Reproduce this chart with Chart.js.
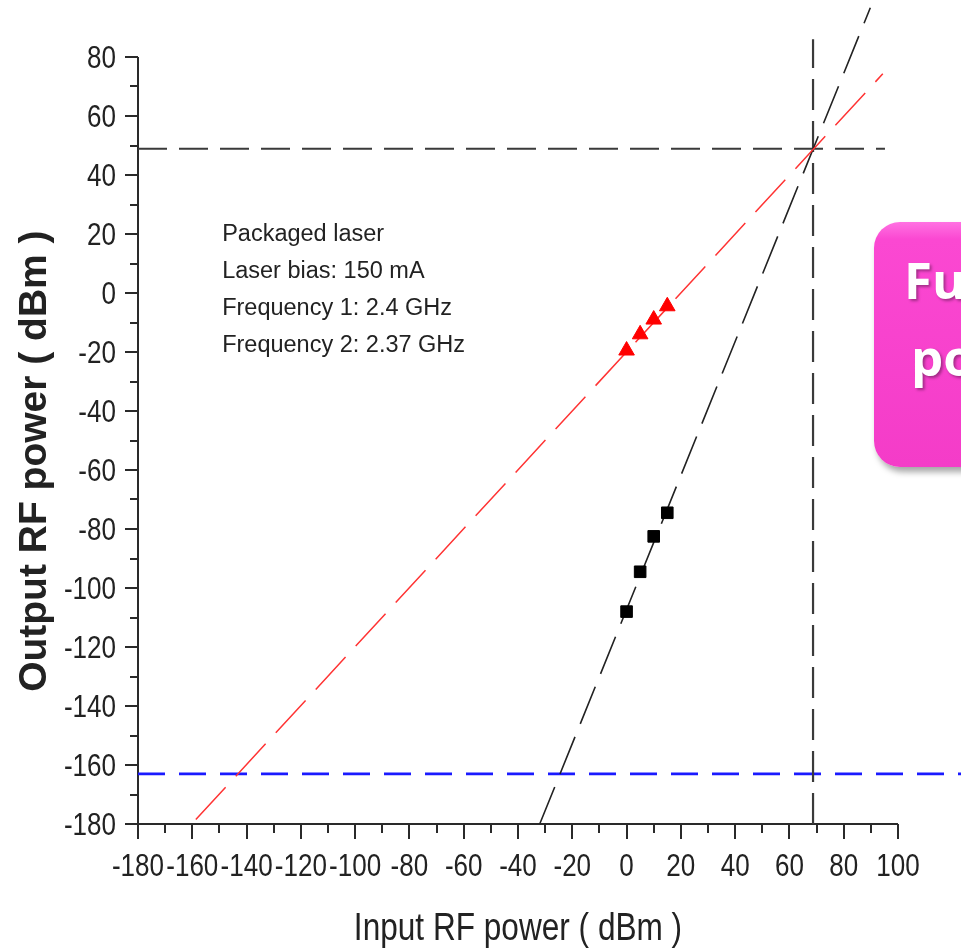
<!DOCTYPE html>
<html>
<head>
<meta charset="utf-8">
<title>Output RF power vs input RF power</title>
<script src="https://cdn.jsdelivr.net/npm/chart.js@4.4.1/dist/chart.umd.min.js"></script>
<style>
  html, body { margin: 0; padding: 0; background: #fff; }
  #wrap { position: relative; width: 961px; height: 949px; overflow: hidden; }
  #callout {
    position: absolute; left: 874px; top: 222px; width: 240px; height: 245px;
    border-radius: 26px;
    background: linear-gradient(180deg, #ff72e2 0%, #fb48d2 7%, #f43cc8 100%);
    box-shadow: 3px 5px 6px rgba(0,0,0,0.35);
    color: #fff; font-family: "Open Sans", "Noto Sans", sans-serif;
    font-weight: 700; font-size: 51px; line-height: 50px;
  }
  #callout span { position: absolute; white-space: nowrap; text-shadow: 2px 2px 3px rgba(0,0,0,0.35); }
</style>
</head>
<body>
<div id="wrap">
  <canvas id="ip3Chart"></canvas>
  <div id="callout"><span style="left:30px;top:32px">Fundamental</span><span style="left:37px;top:109px">power</span></div>
</div>
<script>
// measured fundamental (red) and third-order product (black)
const fundIn  = [0, 5, 10, 15];
const fundOut = [-19.5, -14, -9, -4.5];
const imdIn   = [0, 5, 10, 15];
const imdOut  = [-108, -94.5, -82.5, -74.5];

// extrapolated fit lines (end points)
const fundFitIn  = [-158.7, 94.4];
const fundFitOut = [-178.5, 74.3];
const imdFitIn   = [-32, 89.8];
const imdFitOut  = [-180, 96.7];

// intercept point and noise floor
const ip3In = 68.7;
const ip3Out = 48.9;
const oip3LineIn = [-180, 95.2];
const iip3LineOut = [-180, 86];
const noiseFloor = -163;
const floorLineIn = [-180, 125];

const noteLines = ["Packaged laser", "Laser bias: 150 mA", "Frequency 1: 2.4 GHz", "Frequency 2: 2.37 GHz"];

const INK = "#222";
const SANS = "'Liberation Sans', Arial, sans-serif";

function pts(xs, ys) { return xs.map((v, i) => ({ x: v, y: ys[i] })); }

// narrow text: regular face squeezed horizontally
function narrowText(ctx, s, x, y, sx) {
  ctx.save();
  ctx.translate(x, y);
  ctx.scale(sx, 1);
  ctx.fillText(s, 0, 0);
  ctx.restore();
}

// axis lines, major/minor tick marks and labels
const axisMarks = {
  id: "axisMarks",
  beforeDatasetsDraw(chart) {
    const { ctx, chartArea: a, scales: { x, y } } = chart;
    ctx.save();
    ctx.strokeStyle = "#2a2a2a";
    ctx.lineWidth = 2;
    ctx.beginPath();
    ctx.moveTo(a.left, a.top);
    ctx.lineTo(a.left, a.bottom);
    ctx.lineTo(a.right, a.bottom);
    x.ticks.forEach(t => {
      const px = Math.round(x.getPixelForValue(t.value));
      ctx.moveTo(px, a.bottom);
      ctx.lineTo(px, a.bottom + (t.value % 20 === 0 ? 15 : 9));
    });
    y.ticks.forEach(t => {
      const py = Math.round(y.getPixelForValue(t.value));
      ctx.moveTo(a.left, py);
      ctx.lineTo(a.left - (t.value % 20 === 0 ? 13 : 8), py);
    });
    ctx.stroke();

    ctx.fillStyle = INK;
    ctx.font = "31px " + SANS;
    ctx.textBaseline = "alphabetic";
    ctx.textAlign = "center";
    x.ticks.filter(t => t.value % 20 === 0).forEach(t => {
      narrowText(ctx, String(t.value), x.getPixelForValue(t.value), a.bottom + 52, 0.84);
    });
    ctx.textAlign = "right";
    y.ticks.filter(t => t.value % 20 === 0).forEach(t => {
      narrowText(ctx, String(t.value), a.left - 22, y.getPixelForValue(t.value) + 11, 0.84);
    });
    ctx.restore();
  },
  afterDraw(chart) {
    const { ctx, chartArea: a, scales: { x, y } } = chart;
    ctx.save();
    ctx.fillStyle = INK;
    // axis titles
    ctx.font = "39px " + SANS;
    ctx.textAlign = "center";
    ctx.textBaseline = "alphabetic";
    narrowText(ctx, "Input RF power ( dBm )", (a.left + a.right) / 2, 940, 0.81);
    ctx.save();
    ctx.translate(46, y.getPixelForValue(-57));
    ctx.rotate(-Math.PI / 2);
    ctx.font = "bold 39px " + SANS;
    ctx.fillText("Output RF power ( dBm )", 0, 0);
    ctx.restore();
    // measurement conditions
    ctx.font = "23.5px " + SANS;
    ctx.textAlign = "left";
    const nx = x.getPixelForValue(-149);
    const ny = y.getPixelForValue(17.5);
    noteLines.forEach((s, i) => ctx.fillText(s, nx, ny + i * 36.8));
    ctx.restore();
  }
};

new Chart(document.getElementById("ip3Chart"), {
  type: "scatter",
  data: {
    datasets: [
      { data: pts(fundIn, fundOut), pointStyle: "triangle", pointRadius: 9,
        backgroundColor: "#ff0000", borderColor: "#ff0000", borderWidth: 1, showLine: false },
      { data: pts(imdIn, imdOut), pointStyle: "rect", pointRadius: 8.2,
        backgroundColor: "#000", borderColor: "#000", borderWidth: 1, showLine: false },
      { data: pts(fundFitIn, fundFitOut), showLine: true, pointRadius: 0,
        borderColor: "#ff3333", borderWidth: 1.5, borderDash: [44, 15], clip: false },
      { data: pts(imdFitIn, imdFitOut), showLine: true, pointRadius: 0,
        borderColor: "#222", borderWidth: 1.6, borderDash: [40, 14], clip: false },
      { data: pts(oip3LineIn, [ip3Out, ip3Out]), showLine: true, pointRadius: 0,
        borderColor: "#3a3a3a", borderWidth: 2.2, borderDash: [29, 12], clip: false },
      { data: pts([ip3In, ip3In], iip3LineOut), showLine: true, pointRadius: 0,
        borderColor: "#3a3a3a", borderWidth: 2.2, borderDash: [31, 11], clip: false },
      { data: pts(floorLineIn, [noiseFloor, noiseFloor]), showLine: true, pointRadius: 0,
        borderColor: "#1a1aff", borderWidth: 2.6, borderDash: [27, 14], clip: false }
    ]
  },
  options: {
    responsive: true,
    maintainAspectRatio: false,
    animation: false,
    layout: { padding: { top: 57, right: 63, left: 0, bottom: 0 } },
    plugins: { legend: { display: false }, tooltip: { enabled: false } },
    scales: {
      x: {
        type: "linear", min: -180, max: 100,
        afterFit: s => { s.height = 125; },
        grid: { display: false, drawTicks: false },
        border: { display: false },
        ticks: { stepSize: 10, autoSkip: false, display: false }
      },
      y: {
        type: "linear", min: -180, max: 80,
        afterFit: s => { s.width = 138; },
        grid: { display: false, drawTicks: false },
        border: { display: false },
        ticks: { stepSize: 10, autoSkip: false, display: false }
      }
    }
  },
  plugins: [axisMarks]
});
</script>
</body>
</html>
